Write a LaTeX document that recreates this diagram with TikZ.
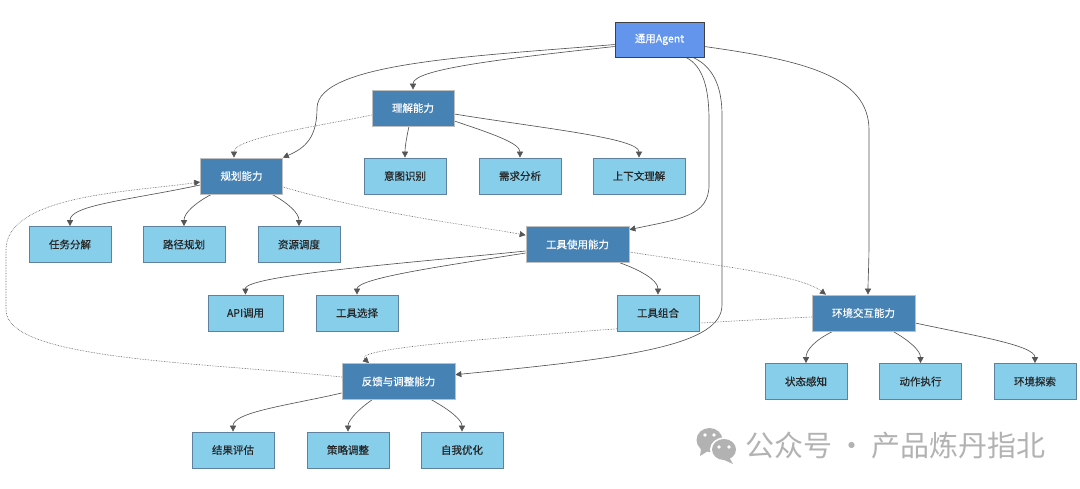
\documentclass[tikz,border=0pt]{standalone}
\usepackage{fontspec}
\setmainfont{Noto Sans CJK SC}
\newfontfamily\boxfont[FakeBold=0.35]{Noto Sans CJK SC}
\usepackage{tikz}
\usetikzlibrary{arrows.meta}
\usetikzlibrary{backgrounds}
\tikzset{>={Stealth[inset=0pt,length=6pt,width=6pt]}}
\definecolor{rootblue}{HTML}{6495ED}
\definecolor{abilityblue}{HTML}{4682B4}
\definecolor{leafblue}{HTML}{87CEEB}
\definecolor{linegray}{HTML}{555555}
\definecolor{markgray}{HTML}{B2B2B2}
\tikzset{
	rootbox/.style={draw=black!75,line width=0.9pt,fill=rootblue,text=white,minimum width=89pt,minimum height=35pt,inner sep=0pt,font=\boxfont\fontsize{10.5}{12}\selectfont},
	abilitybox/.style={draw=black!25,line width=0.7pt,fill=abilityblue,text=white,minimum width=82pt,minimum height=36pt,inner sep=0pt,font=\boxfont\fontsize{10.5}{12}\selectfont},
	leafbox/.style={draw=abilityblue!60!gray,line width=0.7pt,fill=leafblue,text=black!85,minimum width=82pt,minimum height=36pt,inner sep=0pt,font=\boxfont\fontsize{10.5}{12}\selectfont},
	solidlink/.style={draw=linegray,line width=0.65pt,->},
	softlink/.style={draw=linegray,line width=0.6pt,densely dotted,->},
}
\begin{document}
\begin{tikzpicture}[x=1pt,y=-1pt]
	\useasboundingbox (0,0) rectangle (1080,488);
	% top of the tree
	\node[rootbox] (agent) at (659.5,39.5) {通用Agent};
	\node[abilitybox] (understand) at (413,108) {理解能力};
	\node[abilitybox] (plan) at (241.5,176) {规划能力};
	\node[abilitybox,minimum width=103pt] (tooluse) at (577.5,244.5) {工具使用能力};
	\node[abilitybox,minimum width=103pt] (envact) at (863.5,313) {环境交互能力};
	\node[abilitybox,minimum width=113pt] (feedback) at (398.5,381.5) {反馈与调整能力};
	% leaves
	\node[leafbox] (intent) at (405,176) {意图识别};
	\node[leafbox] (demand) at (520,176) {需求分析};
	\node[leafbox,minimum width=92pt] (context) at (639,176) {上下文理解};
	\node[leafbox] (taskdiv) at (70,244.5) {任务分解};
	\node[leafbox] (route) at (184,244.5) {路径规划};
	\node[leafbox] (resource) at (299,244.5) {资源调度};
	\node[leafbox,minimum width=75pt] (apicall) at (245.5,313) {API调用};
	\node[leafbox] (toolpick) at (357,313) {工具选择};
	\node[leafbox] (toolmix) at (658,313) {工具组合};
	\node[leafbox] (sense) at (806,381.5) {状态感知};
	\node[leafbox] (action) at (920.5,381.5) {动作执行};
	\node[leafbox] (explore) at (1035,381.5) {环境探索};
	\node[leafbox] (evaluate) at (233,450) {结果评估};
	\node[leafbox] (strategy) at (348,450) {策略调整};
	\node[leafbox] (optimize) at (462,450) {自我优化};
	% connectors go behind the boxes
	\begin{scope}[on background layer]
		\draw[solidlink] ([yshift=-5pt]agent.west) .. controls (480,56) and (318,62) .. (317,108) .. controls (317,138) and (305,148) .. (plan.north east);
		\draw[solidlink] ([yshift=-7pt]agent.west) .. controls (490,60) and (413,70) .. (understand.north);
		\draw[solidlink] ([xshift=26.5pt]agent.south) .. controls (703,66) and (709,88) .. (709,120) -- (709,185) .. controls (709,216) and (680,219) .. ([yshift=-3.5pt]tooluse.north east);
		\draw[solidlink] ([xshift=33.5pt]agent.south) .. controls (712,66) and (722,85) .. (722,115) -- (722,305) .. controls (722,345) and (630,358) .. ([yshift=-11.5pt]feedback.north east);
		\draw[solidlink] ([yshift=-7pt]agent.east) .. controls (800,60) and (869,75) .. (869,130) -- (869,240) .. controls (869,265) and (868,280) .. ([xshift=4.5pt]envact.north);
		\draw[solidlink] ([xshift=-4pt]understand.south) .. controls (406,140) and (405,148) .. (intent.north);
		\draw[solidlink] ([yshift=-13pt]understand.east) .. controls (490,133) and (520,143) .. (demand.north);
		\draw[solidlink] ([yshift=-6pt]understand.east) .. controls (540,128) and (639,138) .. (context.north);
		\draw[softlink] ([yshift=-7pt]understand.west) .. controls (320,126) and (234,138) .. ([xshift=-7.5pt]plan.north);
		\draw[softlink] ([yshift=-11pt]plan.east) .. controls (380,215) and (470,225) .. ([yshift=-9pt]tooluse.north west);
		\draw[solidlink] ([yshift=-9pt]plan.west) .. controls (130,200) and (70,205) .. (taskdiv.north);
		\draw[solidlink] ([xshift=-30pt]plan.south) .. controls (195,203) and (184,213) .. (route.north);
		\draw[solidlink] ([xshift=30.5pt]plan.south) .. controls (288,203) and (299,213) .. (resource.north);
		\draw[solidlink] ([yshift=-6.5pt]tooluse.west) .. controls (420,262) and (245,275) .. (apicall.north);
		\draw[solidlink] ([yshift=-8.5pt]tooluse.west) .. controls (450,265) and (357,278) .. (toolpick.north);
		\draw[solidlink] ([xshift=42.5pt]tooluse.south) .. controls (640,270) and (658,280) .. (toolmix.north);
		\draw[softlink] ([yshift=-7.5pt]tooluse.east) .. controls (720,266) and (800,275) .. ([xshift=-37.5pt]envact.north);
		\draw[softlink] ([yshift=-4pt]envact.west) .. controls (700,322) and (600,330) .. (537,335) .. controls (450,342) and (355,350) .. ([xshift=-29.5pt]feedback.north);
		\draw[softlink] ([yshift=4.5pt]feedback.west) .. controls (200,362) and (6,360) .. (6,310) -- (6,250) .. controls (6,195) and (130,192) .. ([yshift=-6pt]plan.west);
		\draw[solidlink] ([xshift=-30.5pt]envact.south) .. controls (815,340) and (806,350) .. (sense.north);
		\draw[solidlink] ([xshift=29.5pt]envact.south) .. controls (908,340) and (920.5,350) .. (action.north);
		\draw[solidlink] ([yshift=-10pt]envact.east) .. controls (970,335) and (1035,345) .. (explore.north);
		\draw[solidlink] ([yshift=-11.5pt]feedback.west) .. controls (290,405) and (233,412) .. (evaluate.north);
		\draw[solidlink] ([xshift=-26.5pt]feedback.south) .. controls (360,408) and (348,420) .. (strategy.north);
		\draw[solidlink] ([xshift=33pt]feedback.south) .. controls (450,410) and (462,420) .. (optimize.north);
	\end{scope}
	% watermark
	\fill[markgray] (709.5,440) ellipse [x radius=13pt,y radius=12pt];
	\fill[markgray] (701,449) -- (700,456) -- (708,451) -- cycle;
	\fill[white] (724,449.5) ellipse [x radius=14pt,y radius=12pt];
	\fill[markgray] (724,449.5) ellipse [x radius=12pt,y radius=10.5pt];
	\fill[markgray] (729,457) -- (733,464) -- (722,459) -- cycle;
	\foreach \dotx/\doty in {705/435,714/435,719/447,729/447}
		\fill[white] (\dotx,\doty) circle [radius=1.8pt];
	\node[text=markgray,anchor=west,inner sep=0pt,font=\fontsize{29}{32}\selectfont] (watermark) at (745,445) {公众号\hspace{5pt}·\hspace{5pt}产品炼丹指北};
\end{tikzpicture}
\end{document}
